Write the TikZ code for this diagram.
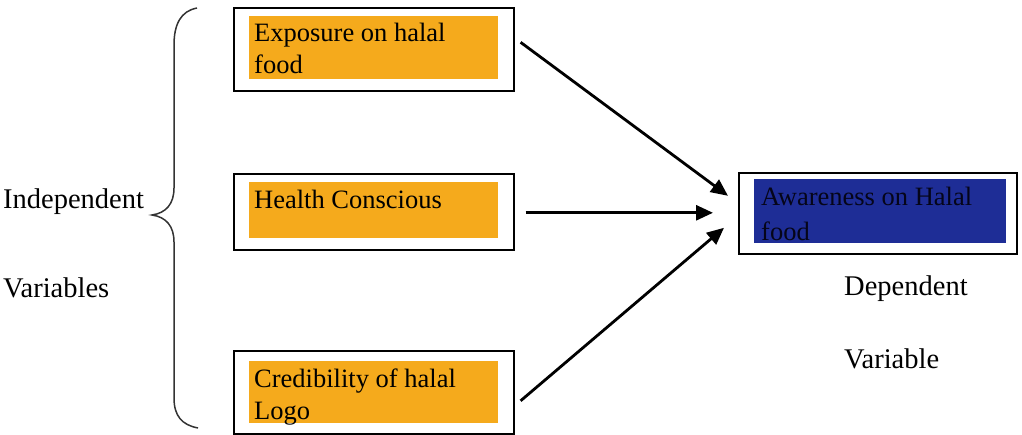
\documentclass[tikz,border=0pt]{standalone}
\usepackage{fontspec}
\setmainfont{Liberation Serif}
\usetikzlibrary{arrows.meta}
\definecolor{halalorange}{RGB}{245,170,28}
\definecolor{halalblue}{RGB}{30,45,150}
\definecolor{darkink}{RGB}{5,5,25}
\begin{document}
\begin{tikzpicture}[x=1pt,y=-1pt,
  outerbox/.style={draw=black, line width=1.6pt, anchor=north west, inner sep=0pt, minimum width=280pt},
  orangefill/.style={fill=halalorange, anchor=north west, inner sep=0pt, minimum width=249pt},
  bluefill/.style={fill=halalblue, anchor=north west, inner sep=0pt, minimum width=252pt, minimum height=64pt},
  boxtext/.style={anchor=north west, inner sep=0pt, align=left, font=\fontsize{26.5}{32}\selectfont},
  sidelabel/.style={anchor=base west, inner sep=0pt, font=\fontsize{28.5}{34}\selectfont},
  link/.style={line width=2.8pt, -{Triangle[length=17pt,width=15pt]}},
  bracestyle/.style={draw=black!80, line width=1.5pt}
]
\useasboundingbox (0,0) rectangle (1022,435);

% boxes
\node[outerbox, minimum height=83pt] (b1) at (233,7) {};
\node[orangefill, minimum height=63pt] (f1) at (249,16) {};
\node[boxtext] (t1) at (254,23) {Exposure on halal\\food};

\node[outerbox, minimum height=76pt] (b2) at (233,173) {};
\node[orangefill, minimum height=56pt] (f2) at (249,182) {};
\node[boxtext] (t2) at (254,190) {Health Conscious};

\node[outerbox, minimum height=83pt] (b3) at (233,350) {};
\node[orangefill, minimum height=62pt] (f3) at (249,361) {};
\node[boxtext] (t3) at (254,369) {Credibility of halal\\Logo};

\node[outerbox, minimum width=278pt, minimum height=81pt] (d) at (738,172) {};
\node[bluefill] (fd) at (754,179) {};
\node[boxtext, text=darkink, font=\fontsize{26.5}{35}\selectfont] (td) at (761,187) {Awareness on Halal\\food};

% side labels
\node[sidelabel] (ind) at (3,209) {Independent};
\node[sidelabel] (var) at (3,298) {Variables};
\node[sidelabel] (dep) at (844,296) {Dependent};
\node[sidelabel] (dvar) at (844,368) {Variable};

% brace
\draw[bracestyle] (197,8) .. controls (181,11) and (174,24) .. (174,45)
  -- (174,188) .. controls (174,204) and (166,213) .. (152,215)
  .. controls (166,217) and (174,226) .. (174,242)
  -- (174,398) .. controls (174,416) and (182,425) .. (198,428);

% arrows
\draw[link] ([xshift=6pt,yshift=7pt]b1.east) -- ([xshift=-10pt,yshift=17.5pt]d.west);
\draw[link] ([xshift=11pt,yshift=-1pt]b2.east) -- ([xshift=-25pt,yshift=0.5pt]d.west);
\draw[link] ([xshift=6pt,yshift=-8.5pt]b3.east) -- ([xshift=-14pt,yshift=-14.5pt]d.west);
\end{tikzpicture}
\end{document}
